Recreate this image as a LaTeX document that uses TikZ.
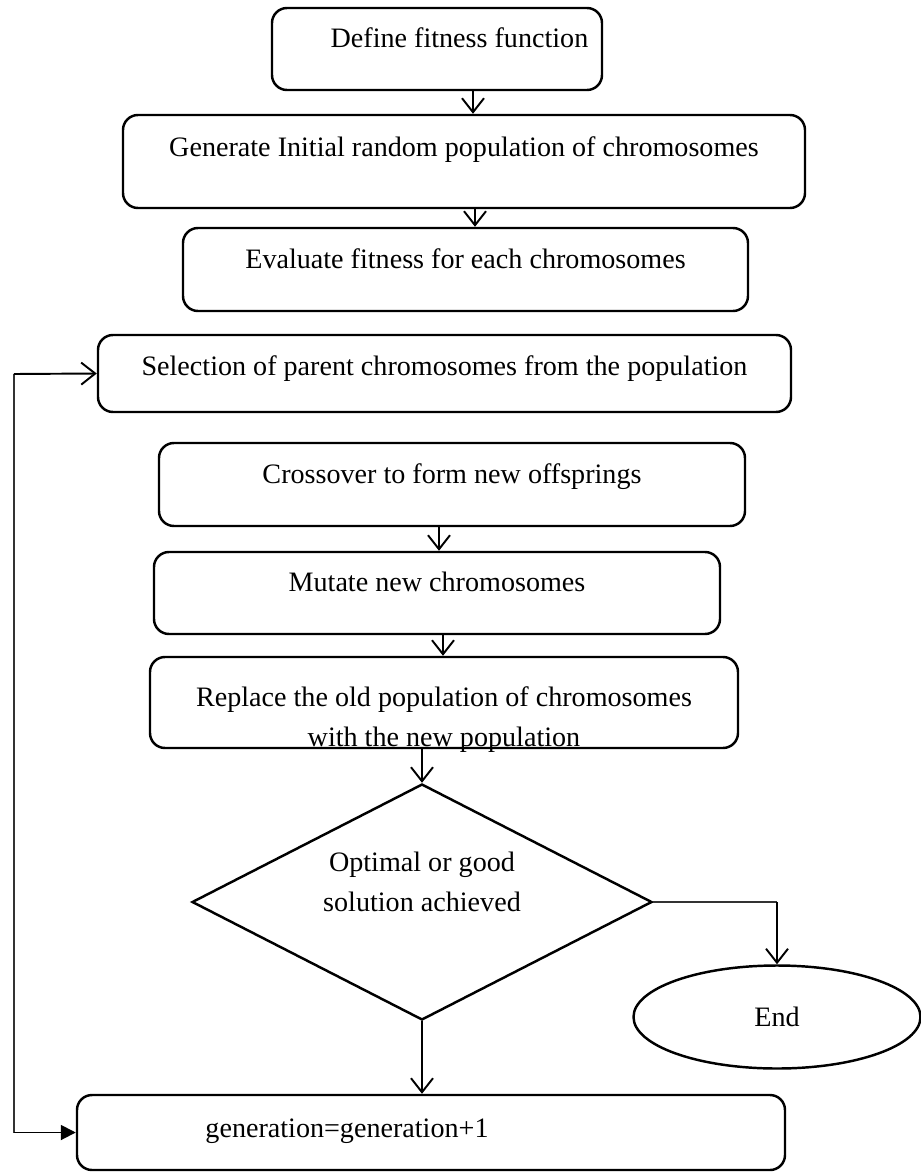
\documentclass[tikz,border=0pt]{standalone}
\usepackage{fontspec}
\setmainfont{Liberation Serif}
\usetikzlibrary{arrows.meta,shapes.geometric}
\definecolor{strich}{HTML}{000000}
\definecolor{duenn}{HTML}{333333}
\tikzset{
  box/.style={draw=strich,rounded corners=0.3cm,line width=1.4pt,text depth=0.45cm,
    font=\fontsize{16}{22.7}\selectfont},
  raute/.style={draw=strich,diamond,line width=1.4pt,inner sep=0pt},
  oval/.style={draw=strich,ellipse,line width=1.4pt,font=\fontsize{16}{22.7}\selectfont},
  txt/.style={font=\fontsize{16}{22.7}\selectfont,align=center,inner sep=0pt},
  pfeil/.style={-{Straight Barb[length=2.8mm,width=4.4mm]},strich,line width=1.1pt},
  pfeilv/.style={-{Triangle[length=3mm,width=3mm]},strich,line width=1.1pt},
  rueck/.style={duenn,line width=0.6pt},
}
\begin{document}
\begin{tikzpicture}
  \useasboundingbox (0,0) rectangle (18.42,-23.5);
  % boxes
  \node[box,minimum width=6.6cm,minimum height=1.64cm] (def) at (8.74,-0.98) {\hspace*{0.9cm}Define fitness function};
  \node[box,minimum width=13.64cm,minimum height=1.86cm,text depth=0.6cm] (init) at (9.28,-3.23) {Generate Initial random population of chromosomes};
  \node[box,minimum width=11.3cm,minimum height=1.66cm] (eval) at (9.31,-5.39) {Evaluate fitness for each chromosomes};
  \node[box,minimum width=13.86cm,minimum height=1.54cm,text depth=0.3cm] (sel) at (8.89,-7.47) {Selection of parent chromosomes from the population};
  \node[box,minimum width=11.72cm,minimum height=1.66cm] (cross) at (9.04,-9.69) {Crossover to form new offsprings};
  \node[box,minimum width=11.32cm,minimum height=1.64cm] (mut) at (8.74,-11.86) {Mutate new chromosomes};
  \node[box,minimum width=11.76cm,minimum height=1.82cm] (repl) at (8.88,-14.05) {};
  \node[txt] (repltxt) at (8.88,-14.4) {Replace the old population of chromosomes\\with the new population};
  \node[raute,minimum width=9.2cm,minimum height=4.72cm] (dec) at (8.44,-18.04) {};
  \node[txt] (dectxt) at ([yshift=0.4cm]dec.center) {Optimal or good\\solution achieved};
  \node[oval,minimum width=5.74cm,minimum height=2.06cm] (end) at (15.54,-20.34) {End};
  \node[box,minimum width=14.16cm,minimum height=1.5cm] (gen) at (8.62,-22.65) {};
  \node[txt] (gentxt) at (6.94,-22.62) {generation=generation+1};
  % arrows
  \draw[pfeil] (def.south -| 9.46,0) -- (init.north -| 9.46,0);
  \draw[pfeil] (init.south -| 9.5,0) -- (eval.north -| 9.5,0);
  \draw[pfeil] (cross.south -| 8.78,0) -- (mut.north -| 8.78,0);
  \draw[pfeil] (mut.south -| 8.86,0) -- (repl.north -| 8.86,0);
  \draw[pfeil] (repl.south -| dec.north) -- (dec.north);
  \draw[pfeil] (dec.south) -- (gen.north -| dec.south);
  \draw[rueck] (dec.east) -- (dec.east -| end.north);
  \draw[pfeil] (dec.east -| end.north) -- (end.north);
  % loop back
  \coordinate (lu) at (0.28,-22.65);
  \coordinate (lo) at (0.28,-7.48);
  \draw[rueck] (lu) -- (lo);
  \draw[pfeil] (lo) -- (sel.west);
  \draw[pfeilv] (lu) -- (gen.west);
\end{tikzpicture}
\end{document}
